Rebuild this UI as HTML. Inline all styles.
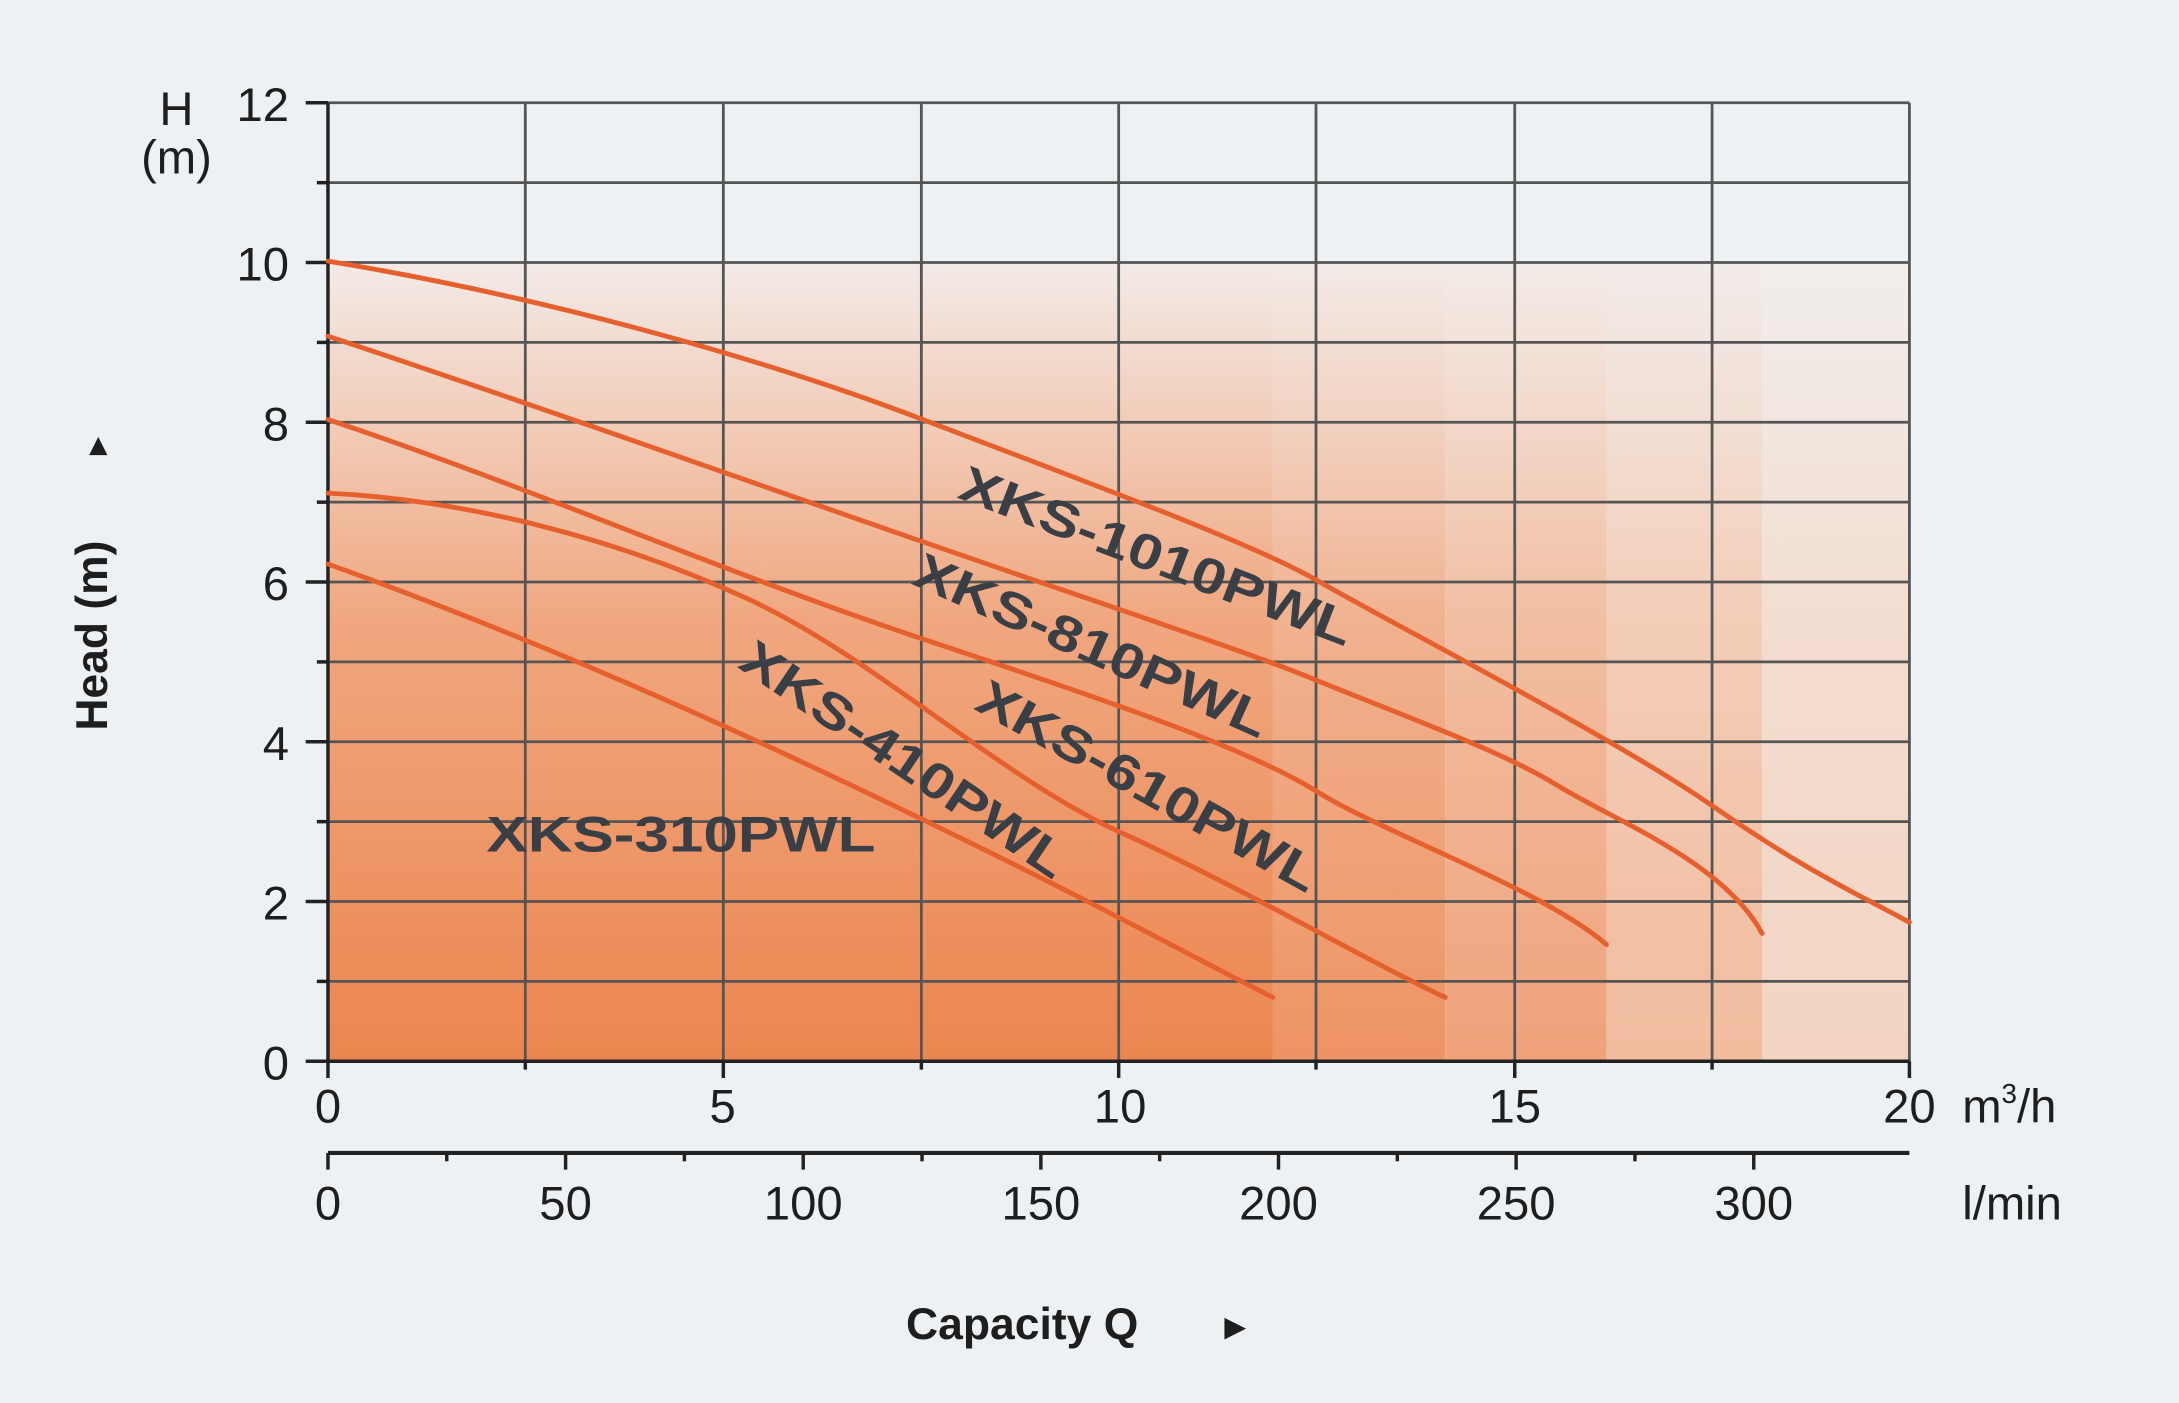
<!DOCTYPE html>
<html><head><meta charset="utf-8"><style>html,body{margin:0;padding:0;background:#eef1f4}svg{display:block}</style></head>
<body>
<svg width="2179" height="1403" viewBox="0 0 1568 1010" preserveAspectRatio="none" xmlns="http://www.w3.org/2000/svg" font-family="Liberation Sans, sans-serif">
<defs>
<linearGradient id="g1" x1="0" y1="1" x2="0" y2="0"><stop offset="0" stop-color="#ec8650"/><stop offset="0.55" stop-color="#f0a77f"/><stop offset="1" stop-color="#f3ebe8"/></linearGradient>
<linearGradient id="g2" x1="0" y1="1" x2="0" y2="0"><stop offset="0" stop-color="#ee9363"/><stop offset="0.55" stop-color="#f1b290"/><stop offset="1" stop-color="#f3ebe8"/></linearGradient>
<linearGradient id="g3" x1="0" y1="1" x2="0" y2="0"><stop offset="0" stop-color="#f0a27a"/><stop offset="0.55" stop-color="#f2bea2"/><stop offset="1" stop-color="#f3ece9"/></linearGradient>
<linearGradient id="g4" x1="0" y1="1" x2="0" y2="0"><stop offset="0" stop-color="#f2bc9e"/><stop offset="0.55" stop-color="#f3cdb8"/><stop offset="1" stop-color="#f2ecea"/></linearGradient>
<linearGradient id="g5" x1="0" y1="1" x2="0" y2="0"><stop offset="0" stop-color="#f3d4c2"/><stop offset="0.55" stop-color="#f3ddd0"/><stop offset="1" stop-color="#f1eeed"/></linearGradient>
</defs>
<rect width="1568" height="1010" fill="#eef1f4"/>
<rect x="236" y="188" width="680" height="576" fill="url(#g1)"/>
<rect x="916" y="188" width="124" height="576" fill="url(#g2)"/>
<rect x="1040" y="188" width="116" height="576" fill="url(#g3)"/>
<rect x="1156" y="188" width="112" height="576" fill="url(#g4)"/>
<rect x="1268" y="188" width="106" height="576" fill="url(#g5)"/>
<g stroke="#555" stroke-width="2">
<line x1="236" y1="74" x2="1374" y2="74"/><line x1="236" y1="131.5" x2="1374" y2="131.5"/><line x1="236" y1="189" x2="1374" y2="189"/><line x1="236" y1="246.5" x2="1374" y2="246.5"/><line x1="236" y1="304" x2="1374" y2="304"/><line x1="236" y1="361.5" x2="1374" y2="361.5"/><line x1="236" y1="419" x2="1374" y2="419"/><line x1="236" y1="476.5" x2="1374" y2="476.5"/><line x1="236" y1="534" x2="1374" y2="534"/><line x1="236" y1="591.5" x2="1374" y2="591.5"/><line x1="236" y1="649" x2="1374" y2="649"/><line x1="236" y1="706.5" x2="1374" y2="706.5"/>
<line x1="378" y1="74" x2="378" y2="764"/><line x1="520.5" y1="74" x2="520.5" y2="764"/><line x1="663" y1="74" x2="663" y2="764"/><line x1="805" y1="74" x2="805" y2="764"/><line x1="947" y1="74" x2="947" y2="764"/><line x1="1090" y1="74" x2="1090" y2="764"/><line x1="1232" y1="74" x2="1232" y2="764"/><line x1="1374" y1="74" x2="1374" y2="764"/>
</g>
<g stroke="#222" stroke-width="2.5">
<line x1="236" y1="74" x2="236" y2="764"/><line x1="236" y1="764" x2="1374" y2="764"/>
<line x1="220" y1="74" x2="236" y2="74"/><line x1="220" y1="189" x2="236" y2="189"/><line x1="220" y1="304" x2="236" y2="304"/><line x1="220" y1="419" x2="236" y2="419"/><line x1="220" y1="534" x2="236" y2="534"/><line x1="220" y1="649" x2="236" y2="649"/><line x1="220" y1="764" x2="236" y2="764"/>
<line x1="228" y1="131.5" x2="236" y2="131.5"/><line x1="228" y1="246.5" x2="236" y2="246.5"/><line x1="228" y1="361.5" x2="236" y2="361.5"/><line x1="228" y1="476.5" x2="236" y2="476.5"/><line x1="228" y1="591.5" x2="236" y2="591.5"/><line x1="228" y1="706.5" x2="236" y2="706.5"/>
<line x1="236" y1="764" x2="236" y2="776"/><line x1="520.5" y1="764" x2="520.5" y2="776"/><line x1="805" y1="764" x2="805" y2="776"/><line x1="1090" y1="764" x2="1090" y2="776"/><line x1="1374" y1="764" x2="1374" y2="776"/>
<line x1="378" y1="764" x2="378" y2="770"/><line x1="663" y1="764" x2="663" y2="770"/><line x1="947" y1="764" x2="947" y2="770"/><line x1="1232" y1="764" x2="1232" y2="770"/>
<line x1="236" y1="830" x2="1374" y2="830" stroke-width="3"/>
<line x1="236" y1="830" x2="236" y2="842"/><line x1="407" y1="830" x2="407" y2="842"/><line x1="578" y1="830" x2="578" y2="842"/><line x1="749" y1="830" x2="749" y2="842"/><line x1="920" y1="830" x2="920" y2="842"/><line x1="1091" y1="830" x2="1091" y2="842"/><line x1="1262" y1="830" x2="1262" y2="842"/>
<line x1="321.5" y1="830" x2="321.5" y2="836"/><line x1="492.5" y1="830" x2="492.5" y2="836"/><line x1="663.5" y1="830" x2="663.5" y2="836"/><line x1="834.5" y1="830" x2="834.5" y2="836"/><line x1="1005.5" y1="830" x2="1005.5" y2="836"/><line x1="1176.5" y1="830" x2="1176.5" y2="836"/>
</g>
<g fill="none" stroke="#e5602c" stroke-width="3.5" stroke-linecap="round">
<path d="M236,188 C400,215 560,262 664,302 S900,390 948,418 S1160,530 1232,580 S1340,645 1374,664"/>
<path d="M236,242 C380,290 520,340 664,390 S900,470 948,490 S1080,540 1120,565 S1240,620 1268,672"/>
<path d="M236,302 C380,350 520,412 664,460 S900,540 948,570 S1110,640 1156,680"/>
<path d="M236,355 C340,360 450,390 540,432 S720,560 808,600 S980,690 1040,718"/>
<path d="M236,406 C380,458 520,520 664,590 S860,690 916,718"/>
</g>
<g font-size="34" fill="#1e1e1e" text-anchor="end">
<text x="208" y="87">12</text><text x="208" y="202">10</text><text x="208" y="317">8</text><text x="208" y="432">6</text><text x="208" y="547">4</text><text x="208" y="662">2</text><text x="208" y="777">0</text>
</g>
<g font-size="34" fill="#1e1e1e" text-anchor="middle">
<text x="236" y="808">0</text><text x="520" y="808">5</text><text x="806" y="808">10</text><text x="1090" y="808">15</text><text x="1374" y="808">20</text>
<text x="236" y="878">0</text><text x="407" y="878">50</text><text x="578" y="878">100</text><text x="749" y="878">150</text><text x="920" y="878">200</text><text x="1091" y="878">250</text><text x="1262" y="878">300</text>
<text x="127" y="90">H</text><text x="127" y="125">(m)</text>
</g>
<text x="1412" y="808" font-size="34" fill="#1e1e1e">m<tspan font-size="20" dy="-14">3</tspan><tspan dy="14">/h</tspan></text>
<text x="1412" y="878" font-size="34" fill="#1e1e1e">l/min</text>
<text x="652" y="964" font-size="32" font-weight="bold" fill="#1e1e1e">Capacity Q</text>
<text x="876" y="964" font-size="26" fill="#1e1e1e">►</text>
<text transform="translate(77,526) rotate(-90)" font-size="32" font-weight="bold" fill="#1e1e1e">Head (m)</text>
<text transform="translate(77,332) rotate(-90)" font-size="22" fill="#1e1e1e">►</text>
<g font-size="36" font-weight="bold" fill="#3a3f45">
<text transform="translate(688,358) rotate(21)" textLength="300" lengthAdjust="spacingAndGlyphs">XKS-1010PWL</text>
<text transform="translate(655,420) rotate(24)" textLength="275" lengthAdjust="spacingAndGlyphs">XKS-810PWL</text>
<text transform="translate(700,510) rotate(29)" textLength="275" lengthAdjust="spacingAndGlyphs">XKS-610PWL</text>
<text transform="translate(530,480) rotate(34)" textLength="275" lengthAdjust="spacingAndGlyphs">XKS-410PWL</text>
<text x="350" y="613" textLength="280" lengthAdjust="spacingAndGlyphs">XKS-310PWL</text>
</g>
</svg>
</body></html>
